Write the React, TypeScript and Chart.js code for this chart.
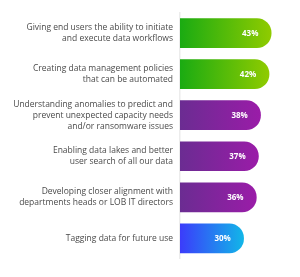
import React, { useEffect, useRef } from "react";
import { Chart, registerables } from "chart.js";

Chart.register(...registerables);

const categories: string[][] = [
  ["Giving end users the ability to initiate", "and execute data workflows"],
  ["Creating data management policies", "that can be automated"],
  ["Understanding anomalies to predict and", "prevent unexpected capacity needs", "and/or ransomware issues"],
  ["Enabling data lakes and better", "user search of all our data"],
  ["Developing closer alignment with", "departments heads or LOB IT directors"],
  ["Tagging data for future use"],
];
const values: number[] = [43, 42, 38, 37, 36, 30];
const valueLabels: string[] = ["43%", "42%", "38%", "37%", "36%", "30%"];
const gradientStops: [string, string][] = [
  ["#1aab12", "#8fcb00"],
  ["#1aab12", "#8fcb00"],
  ["#6b2c92", "#9a1ca8"],
  ["#6b2c92", "#9a1ca8"],
  ["#6b2c92", "#9a1ca8"],
  ["#3b3cfb", "#12b6e8"],
];

const valueLabelPlugin = {
  id: "valueLabels",
  afterDatasetsDraw(chart: any) {
    const ctx = chart.ctx;
    const meta = chart.getDatasetMeta(0);
    ctx.save();
    ctx.fillStyle = "#ffffff";
    ctx.font = "bold 8px 'Open Sans'";
    ctx.textAlign = "center";
    ctx.textBaseline = "middle";
    meta.data.forEach((el: any, i: number) => {
      ctx.fillText(valueLabels[i], el.x - 21, el.y + 0.5);
    });
    ctx.restore();
  },
};

export default function App() {
  const ref = useRef<HTMLCanvasElement | null>(null);
  useEffect(() => {
    if (!ref.current) return;
    const chart = new Chart(ref.current, {
      type: "bar",
      data: {
        labels: categories,
        datasets: [
          {
            data: values,
            backgroundColor: (c: any) => {
              const ch = c.chart;
              const area = ch.chartArea;
              const xs = ch.scales && ch.scales.x;
              const i = c.dataIndex ?? 0;
              const stops = gradientStops[i] || gradientStops[0];
              if (!area || !xs) return stops[0];
              const x0 = xs.getPixelForValue(0);
              const x1 = xs.getPixelForValue(values[i]);
              const g = ch.ctx.createLinearGradient(x0, 0, x1, 0);
              g.addColorStop(0, stops[0]);
              g.addColorStop(1, stops[1]);
              return g;
            },
            borderRadius: 20,
            borderSkipped: "start",
            barThickness: 29,
          },
        ],
      },
      options: {
        indexAxis: "y",
        animation: false,
        responsive: false,
        maintainAspectRatio: false,
        layout: { padding: { top: 8, bottom: 10, right: 14, left: 0 } },
        plugins: { legend: { display: false }, tooltip: { enabled: false } },
        scales: {
          x: { display: false, min: 0, max: 50 },
          y: {
            afterFit: (s: any) => {
              s.width = 180;
            },
            grid: { display: false, drawTicks: false },
            border: { display: true, color: "#ececec", width: 1.5 },
            ticks: {
              color: "#4a4a4a",
              padding: 7,
              font: { family: "'Open Sans'", size: 8.5, lineHeight: 1.3 },
            },
          },
        },
      },
      plugins: [valueLabelPlugin],
    });
    return () => chart.destroy();
  }, []);
  return (
    <div style={{ position: "fixed", left: 0, top: 0, width: 300, height: 277, background: "#fff" }}>
      <canvas ref={ref} width={300} height={277} style={{ width: 300, height: 277 }} />
    </div>
  );
}
